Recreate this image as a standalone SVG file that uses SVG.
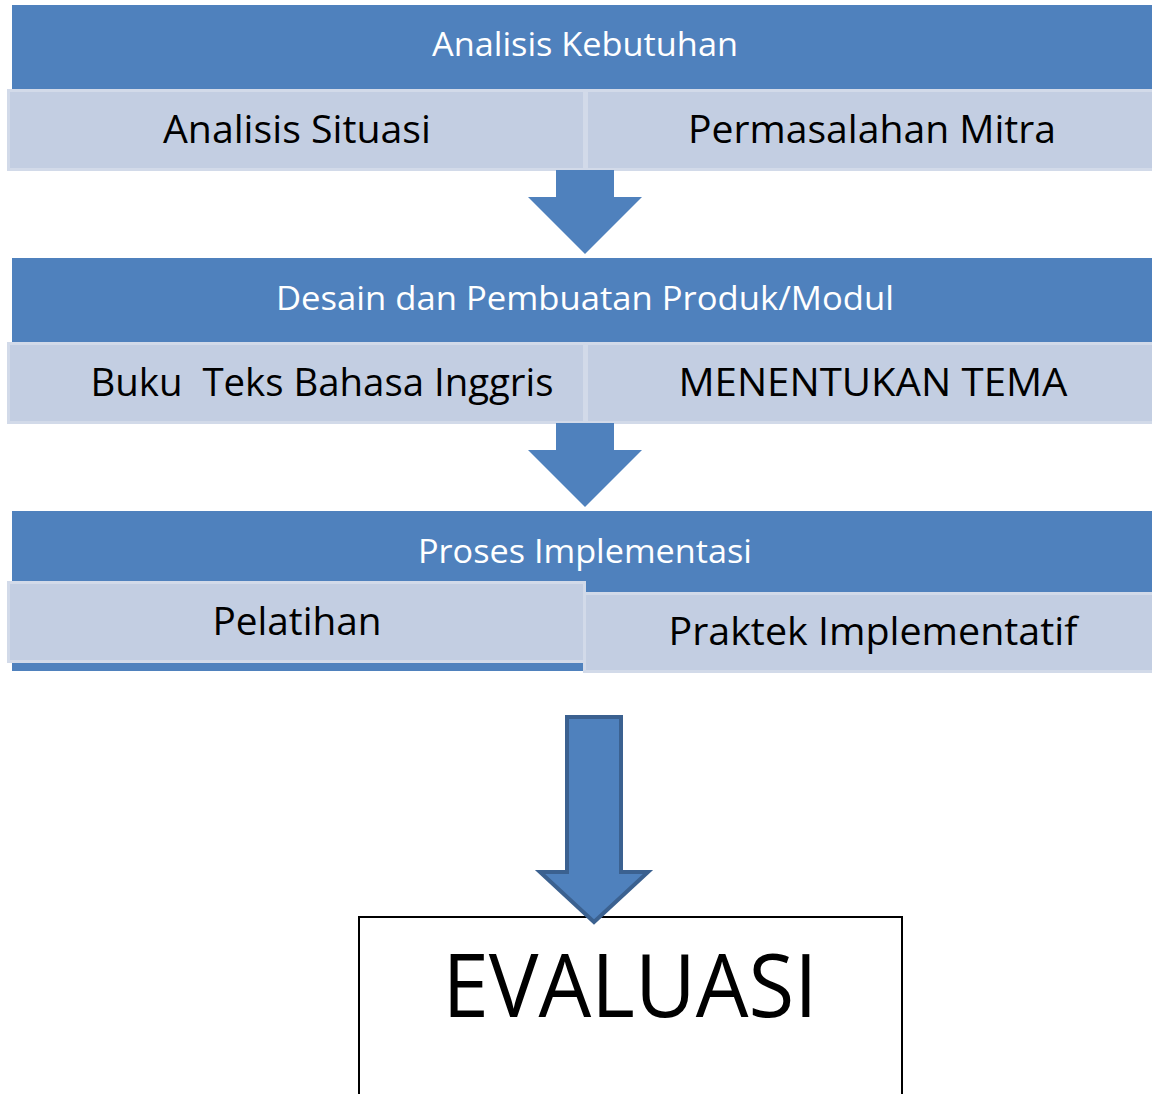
<svg xmlns="http://www.w3.org/2000/svg" width="1152" height="1094" viewBox="0 0 1152 1094">
<style>
.band{fill:#4F81BD}
.sub{fill:#C3CEE2;stroke:#D2DAE9;stroke-width:3}
.arrow{fill:#4F81BD}
.t{font-family:"Open Sans","Liberation Sans",sans-serif;text-anchor:middle}
.w{fill:#FFFFFF;font-size:33px}
.b{fill:#000000;font-size:38px}
</style>
<rect width="1152" height="1094" fill="#FFFFFF"/>
<g id="analisis-kebutuhan">
<rect class="band" x="12" y="5" width="1142" height="86"/>
<text class="t w" x="585" y="56" textLength="306" lengthAdjust="spacingAndGlyphs">Analisis Kebutuhan</text>
</g>
<g id="analisis-situasi">
<rect class="sub" x="8.5" y="90.5" width="576" height="79"/>
<text class="t b" x="297" y="143" textLength="268" lengthAdjust="spacingAndGlyphs">Analisis Situasi</text>
</g>
<g id="permasalahan-mitra">
<rect class="sub" x="586.5" y="90.5" width="570" height="79"/>
<text class="t b" x="872" y="143" textLength="368" lengthAdjust="spacingAndGlyphs">Permasalahan Mitra</text>
</g>
<g id="desain">
<rect class="band" x="12" y="258" width="1142" height="86"/>
<text class="t w" x="585" y="310" textLength="618" lengthAdjust="spacingAndGlyphs">Desain dan Pembuatan Produk/Modul</text>
</g>
<g id="buku-teks">
<rect class="sub" x="8.5" y="343.5" width="576" height="79"/>
<text class="t b" x="322" y="396" textLength="463" lengthAdjust="spacingAndGlyphs" xml:space="preserve">Buku  Teks Bahasa Inggris</text>
</g>
<g id="menentukan-tema">
<rect class="sub" x="586.5" y="343.5" width="570" height="79"/>
<text class="t b" x="873" y="396" textLength="389" lengthAdjust="spacingAndGlyphs">MENENTUKAN TEMA</text>
</g>
<g id="proses-implementasi">
<rect class="band" x="12" y="511" width="1142" height="160"/>
<text class="t w" x="585" y="563" textLength="334" lengthAdjust="spacingAndGlyphs">Proses Implementasi</text>
</g>
<g id="pelatihan">
<rect class="sub" x="8.5" y="582.5" width="576" height="79"/>
<text class="t b" x="297" y="635" textLength="169" lengthAdjust="spacingAndGlyphs">Pelatihan</text>
</g>
<g id="praktek">
<rect class="sub" x="584.5" y="593.5" width="572" height="78"/>
<text class="t b" x="873" y="645" textLength="409" lengthAdjust="spacingAndGlyphs">Praktek Implementatif</text>
</g>
<g id="evaluasi">
<rect x="359" y="917" width="543" height="190" fill="#FFFFFF" stroke="#000000" stroke-width="2"/>
<text class="t" x="630" y="1017" font-size="88" fill="#000000" textLength="375" lengthAdjust="spacingAndGlyphs">EVALUASI</text>
</g>
<g id="connectors">
<polygon class="arrow" points="556,170 614,170 614,197 642,197 585,254 528,197 556,197"/>
<polygon class="arrow" points="556,423 614,423 614,450 642,450 585,507 528,450 556,450"/>
<polygon points="567,717 621,717 621,872 648,872 594,922 540,872 567,872" fill="#4F81BD" stroke="#3B6190" stroke-width="4" stroke-linejoin="miter"/>
</g>
</svg>
